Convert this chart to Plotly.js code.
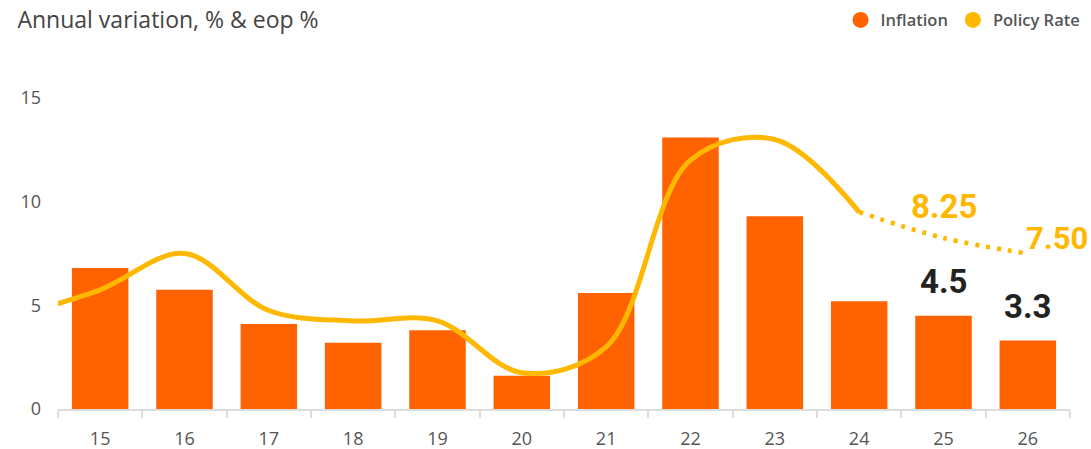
<!DOCTYPE html>
<html>
<head>
<meta charset="utf-8">
<script src="https://cdn.plot.ly/plotly-3.0.1.min.js"></script>
<style>html,body{margin:0;padding:0;background:#fff;}#chart{width:1091px;height:449px;}</style>
</head>
<body>
<div id="chart"></div>
<script>
// Data
const years = [15, 16, 17, 18, 19, 20, 21, 22, 23, 24, 25, 26];
const yearLabels = ["15", "16", "17", "18", "19", "20", "21", "22", "23", "24", "25", "26"];
const inflation = [6.8, 5.75, 4.1, 3.2, 3.8, 1.6, 5.6, 13.1, 9.3, 5.2, 4.5, 3.3];
const rateYears = [14, 15, 16, 17, 18, 19, 20, 21, 22, 23, 24];
const policyRate = [4.5, 5.75, 7.5, 4.75, 4.25, 4.25, 1.75, 3.0, 12.0, 13.0, 9.5];
const forecastYears = [24, 25, 26];
const policyRateForecast = [9.5, 8.25, 7.5];
const inflationLabelYears = [25, 26];
const inflationLabels = [4.5, 3.3];

const ORANGE = "#ff6200";
const YELLOW = "#ffb800";
const FONT = "Open Sans, DejaVu Sans, sans-serif";
const NUMFONT = "Roboto, Open Sans, sans-serif";

const traces = [
  {
    type: "bar", x: years, y: inflation, name: "Inflation",
    marker: {color: ORANGE}, width: 0.67, showlegend: false, hoverinfo: "x+y"
  },
  {
    type: "scatter", mode: "lines", x: rateYears, y: policyRate, name: "Policy Rate",
    line: {color: YELLOW, width: 5, shape: "spline", smoothing: 1}, showlegend: false
  },
  {
    type: "scatter", mode: "lines", x: forecastYears, y: policyRateForecast, name: "Policy Rate (f)",
    line: {color: YELLOW, width: 4.5, shape: "spline", smoothing: 1, dash: "4px,7px"}, showlegend: false
  },
  {
    type: "scatter", mode: "markers", x: [null], y: [null], name: "Inflation",
    marker: {color: ORANGE, size: 18, symbol: "circle"}, showlegend: true
  },
  {
    type: "scatter", mode: "markers", x: [null], y: [null], name: "Policy Rate",
    marker: {color: YELLOW, size: 18, symbol: "circle"}, showlegend: true
  }
];

const annotations = [];
inflationLabelYears.forEach((yr, i) => {
  annotations.push({
    x: yr, y: inflationLabels[i], xref: "x", yref: "y",
    text: inflationLabels[i].toFixed(1), showarrow: false,
    yanchor: "middle", xanchor: "center", yshift: 34,
    font: {family: NUMFONT, size: 33, color: "#222222", weight: 700}
  });
});
annotations.push({
  x: forecastYears[1], y: policyRateForecast[1], xref: "x", yref: "y",
  text: policyRateForecast[1].toFixed(2), showarrow: false,
  xanchor: "center", yanchor: "middle", yshift: 31,
  font: {family: NUMFONT, size: 33, color: YELLOW, weight: 700}
});
annotations.push({
  x: forecastYears[2], y: policyRateForecast[2], xref: "x", yref: "y",
  text: policyRateForecast[2].toFixed(2), showarrow: false,
  xanchor: "left", yanchor: "middle", yshift: 15, xshift: -4,
  font: {family: NUMFONT, size: 31, color: YELLOW, weight: 700}
});

const layout = {
  width: 1091, height: 449,
  margin: {l: 58, r: 21, t: 98, b: 40},
  paper_bgcolor: "#ffffff", plot_bgcolor: "rgba(0,0,0,0)",
  font: {family: FONT, color: "#555555"},
  title: {
    text: "Annual variation, % &amp; eop %", xref: "container", yref: "container",
    x: 0.016, xanchor: "left", y: 0.955, yanchor: "middle",
    font: {family: FONT, size: 23, color: "#444444"}
  },
  showlegend: true,
  legend: {
    orientation: "h", xref: "container", yref: "container",
    x: 0.995, xanchor: "right", y: 0.955, yanchor: "middle",
    font: {family: FONT, size: 16.5, color: "#555555", weight: 600},
    bgcolor: "rgba(0,0,0,0)", itemwidth: 30
  },
  xaxis: {
    range: [14.5, 26.5], tickmode: "array", tickvals: years, ticktext: yearLabels,
    ticks: "", showgrid: false, zeroline: false,
    showline: true, linecolor: "#dddddd", linewidth: 2,
    tickfont: {family: FONT, size: 18, color: "#555555"}, ticklabelstandoff: 12,
    minor: {tick0: 14.5, dtick: 1, ticks: "outside", ticklen: 7, tickwidth: 2, tickcolor: "#dddddd", showgrid: false},
    fixedrange: true
  },
  yaxis: {
    range: [0, 15], tickvals: [0, 5, 10, 15], ticktext: ["0", "5", "10", "15"],
    showgrid: false, zeroline: false, showline: false, ticks: "",
    tickfont: {family: FONT, size: 18, color: "#555555"}, ticklabelstandoff: 16,
    fixedrange: true
  },
  annotations: annotations,
  bargap: 0.33
};

Plotly.newPlot("chart", traces, layout, {displayModeBar: false, staticPlot: true});
</script>
</body>
</html>
